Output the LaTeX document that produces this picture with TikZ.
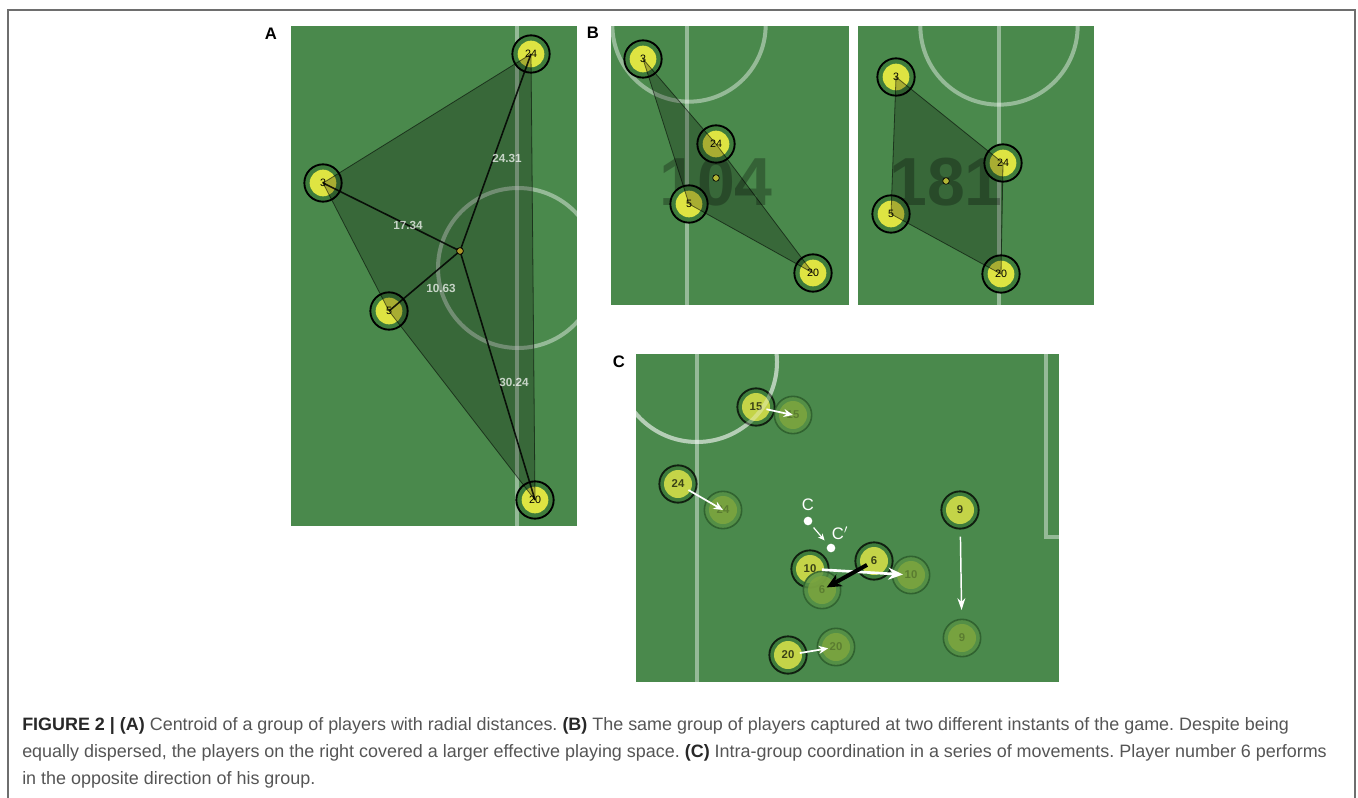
\documentclass[tikz,border=0pt]{standalone}
\usepackage{fontspec}
\setmainfont{Liberation Sans}
\usetikzlibrary{arrows.meta}

\definecolor{fieldgreen}{RGB}{74,137,76}
\definecolor{ringgreen}{RGB}{62,124,60}
\definecolor{ballyellow}{RGB}{222,228,66}
\definecolor{cyellow}{RGB}{196,212,72}
\definecolor{ghostring}{RGB}{86,145,70}
\definecolor{ghostin}{RGB}{126,166,62}
\definecolor{ghostline}{RGB}{44,92,44}
\definecolor{ghosttext}{RGB}{86,118,46}
\definecolor{ctext}{RGB}{58,66,22}
\definecolor{centroidfill}{RGB}{170,150,40}
\definecolor{capbold}{RGB}{40,40,40}
\definecolor{captext}{RGB}{85,85,85}
\definecolor{framegray}{RGB}{110,110,110}

% bold lead-ins of the caption
\newcommand\capemph[1]{{\bfseries\color{capbold}#1}}
\frenchspacing

\begin{document}
\begin{tikzpicture}[x=0.75pt,y=-0.75pt,
  field/.style={fill=fieldgreen},
  fieldline/.style={draw=white, draw opacity=0.42, line width=3pt},
  player/.style={circle, minimum size=28pt, inner sep=0pt, draw=black, line width=1.4pt,
    fill=ringgreen, text=black, font=\fontsize{8}{8}\selectfont,
    path picture={\fill[ballyellow] (path picture bounding box.center) circle[radius=10pt];}},
  cplayer/.style={circle, minimum size=28pt, inner sep=0pt, draw=black, draw opacity=0.75, line width=1.4pt,
    fill=ringgreen, text=ctext, font=\bfseries\fontsize{8.5}{8.5}\selectfont,
    path picture={\fill[cyellow] (path picture bounding box.center) circle[radius=10.5pt];}},
  ghost/.style={circle, minimum size=28pt, inner sep=0pt, draw=ghostline, draw opacity=0.8, line width=1.2pt,
    fill=ghostring, text=ghosttext, font=\bfseries\fontsize{8.5}{8.5}\selectfont,
    path picture={\fill[ghostin] (path picture bounding box.center) circle[radius=10.5pt];}},
  hull/.style={fill=black, fill opacity=0.24, draw=black, draw opacity=0.55, line width=0.6pt},
  radial/.style={draw=black, draw opacity=0.85, line width=1.2pt},
  centroid/.style={circle, minimum size=5pt, inner sep=0pt, fill=centroidfill, draw=black, line width=0.5pt},
  dist/.style={font=\bfseries\fontsize{8.8}{8.8}\selectfont, text=white, text opacity=0.72},
  bignum/.style={font=\bfseries\fontsize{51}{51}\selectfont, text=black, text opacity=0.28},
  panellabel/.style={font=\bfseries\fontsize{12.5}{12.5}\selectfont, text=black},
  cdot/.style={circle, fill=white, minimum size=6.5pt, inner sep=0pt},
  clabel/.style={font=\fontsize{12.5}{12.5}\selectfont, text=white},
  warrow/.style={draw=white, line width=1.3pt, -{Stealth[length=7pt,width=6pt]}},
  bigwarrow/.style={draw=white, line width=2pt, -{Stealth[length=11pt,width=9pt]}},
  karrow/.style={draw=black, line width=3pt, -{Stealth[length=11pt,width=10pt]}},
  captionline/.style={anchor=base west, inner sep=0pt, font=\fontsize{13.45}{15}\selectfont, text=captext}
]
\useasboundingbox (0,0) rectangle (1358,798);
\fill[white] (0,0) rectangle (1358,798);

% outer frame of the figure
\draw[framegray, line width=1.5pt] (8,800) -- (8,10) -- (1355,10) -- (1355,800);

% ---------------- panel A ----------------
\node[panellabel] (labA) at (271,34) {A};
\begin{scope}
  \clip (291,26) rectangle (577,526);
  \fill[field] (291,26) rectangle (577,526);
  \draw[fieldline] (517,20) -- (517,530);
  \draw[fieldline] (518,268) circle[radius=60pt];
\end{scope}
\node[player] (a24) at (531,54) {24};
\node[player] (a3) at (323,183) {3};
\node[player] (a5) at (389,311) {5};
\node[player] (a20) at (535,500) {20};
\node[centroid] (ac) at (460,251) {};
\path[hull] (a3.center) -- (a24.center) -- (a20.center) -- (a5.center) -- cycle;
\draw[radial] (ac.center) -- (a3.center);
\draw[radial] (ac.center) -- (a24.center);
\draw[radial] (ac.center) -- (a5.center);
\draw[radial] (ac.center) -- (a20.center);
\node[centroid] (ac2) at (ac.center) {};
\node[dist] (d24) at (507,158) {24.31};
\node[dist] (d3) at (408,225) {17.34};
\node[dist] (d5) at (441,288) {10.63};
\node[dist] (d20) at (514,382) {30.24};

% ---------------- panel B (left) ----------------
\node[panellabel] (labB) at (593,33) {B};
\begin{scope}
  \clip (611,26) rectangle (849,305);
  \fill[field] (611,26) rectangle (849,305);
  \draw[fieldline] (687,20) -- (687,310);
  \draw[fieldline] (689,25) circle[radius=57.5pt];
\end{scope}
\node[bignum] (n104) at (716,182) {104};
\node[player] (b3) at (643,59) {3};
\node[player] (b24) at (716,144) {24};
\node[player] (b5) at (689,204) {5};
\node[player] (b20) at (813,273) {20};
\path[hull] (b3.center) -- (b24.center) -- (b20.center) -- (b5.center) -- cycle;
\node[centroid, fill=ballyellow!80!black] (bc) at (716,178) {};

% ---------------- panel B (right) ----------------
\begin{scope}
  \clip (858,26) rectangle (1094,305);
  \fill[field] (858,26) rectangle (1094,305);
  \draw[fieldline] (999,20) -- (999,310);
  \draw[fieldline] (999,26) circle[radius=59pt];
\end{scope}
\node[bignum] (n181) at (946,182) {181};
\node[player] (r3) at (896,77) {3};
\node[player] (r24) at (1003,163) {24};
\node[player] (r5) at (891,214) {5};
\node[player] (r20) at (1001,274) {20};
\path[hull] (r3.center) -- (r24.center) -- (r20.center) -- (r5.center) -- cycle;
\node[centroid, fill=ballyellow!80!black] (rc) at (946,181) {};

% ---------------- panel C ----------------
\node[panellabel] (labC) at (619,362) {C};
\begin{scope}
  \clip (636,354) rectangle (1059,682);
  \fill[field] (636,354) rectangle (1059,682);
  \draw[fieldline] (697,350) -- (697,690);
  \draw[fieldline] (697,362) circle[radius=60pt];
  \draw[fieldline] (1046,350) -- (1046,537) -- (1065,537);
\end{scope}
% players in their first position
\node[cplayer] (c15) at (756,407) {15};
\node[cplayer] (c24) at (678,484) {24};
\node[cplayer] (c10) at (810,569) {10};
\node[cplayer] (c6) at (874,561) {6};
\node[cplayer] (c9) at (960,510) {9};
\node[cplayer] (c20) at (788,655) {20};
% players in their later position
\node[ghost, opacity=0.85] (g15) at (793,415) {15};
\node[ghost, opacity=0.85] (g24) at (723,510) {24};
\node[ghost, opacity=0.8] (g6) at (822,590) {6};
\node[ghost, opacity=0.85] (g10) at (911,575) {10};
\node[ghost, opacity=0.85] (g9) at (962,638) {9};
\node[ghost, opacity=0.85] (g20) at (836,647) {20};
% centre circle shows through the players
\begin{scope}
  \clip (636,354) rectangle (1059,682);
  \draw[white, draw opacity=0.3, line width=3pt] (697,362) circle[radius=60pt];
\end{scope}
% displacement arrows
\draw[warrow, shorten <=8pt, shorten >=0pt] (c15.center) -- (g15.center);
\draw[warrow, shorten <=9pt, shorten >=0pt] (c24.center) -- (g24.center);
\draw[warrow, shorten <=9pt, shorten >=6pt] (c20.center) -- (g20.center);
\draw[bigwarrow, shorten <=9pt, shorten >=6pt] (c10.center) -- (g10.center);
\draw[warrow, line width=1.1pt, -{Stealth[length=9pt,width=6pt]}, shorten <=20pt, shorten >=21pt] (c9.center) -- (g9.center);
\draw[karrow, shorten <=6pt, shorten >=4pt] (c6.center) -- (g6.center);
% group centroid before and after
\node[cdot] (cc) at (808,521) {};
\node[cdot] (ccp) at (831,548) {};
\node[clabel] (lc) at (808,505) {C};
\node[clabel] (lcp) at (840,533) {C$'$};
\draw[warrow, line width=0.9pt, -{Stealth[length=5pt,width=4.5pt]}, shorten <=3pt, shorten >=4pt] (cc) -- (ccp);

% ---------------- caption ----------------
\node[captionline] (cap1) at (22,730) {\capemph{FIGURE 2 | (A)} Centroid of a group of players with radial distances. \capemph{(B)} The same group of players captured at two different instants of the game. Despite being};
\node[captionline] (cap2) at (22,757) {equally dispersed, the players on the right covered a larger effective playing space. \capemph{(C)} Intra-group coordination in a series of movements. Player number 6 performs};
\node[captionline] (cap3) at (22,784) {in the opposite direction of his group.};
\end{tikzpicture}
\end{document}
